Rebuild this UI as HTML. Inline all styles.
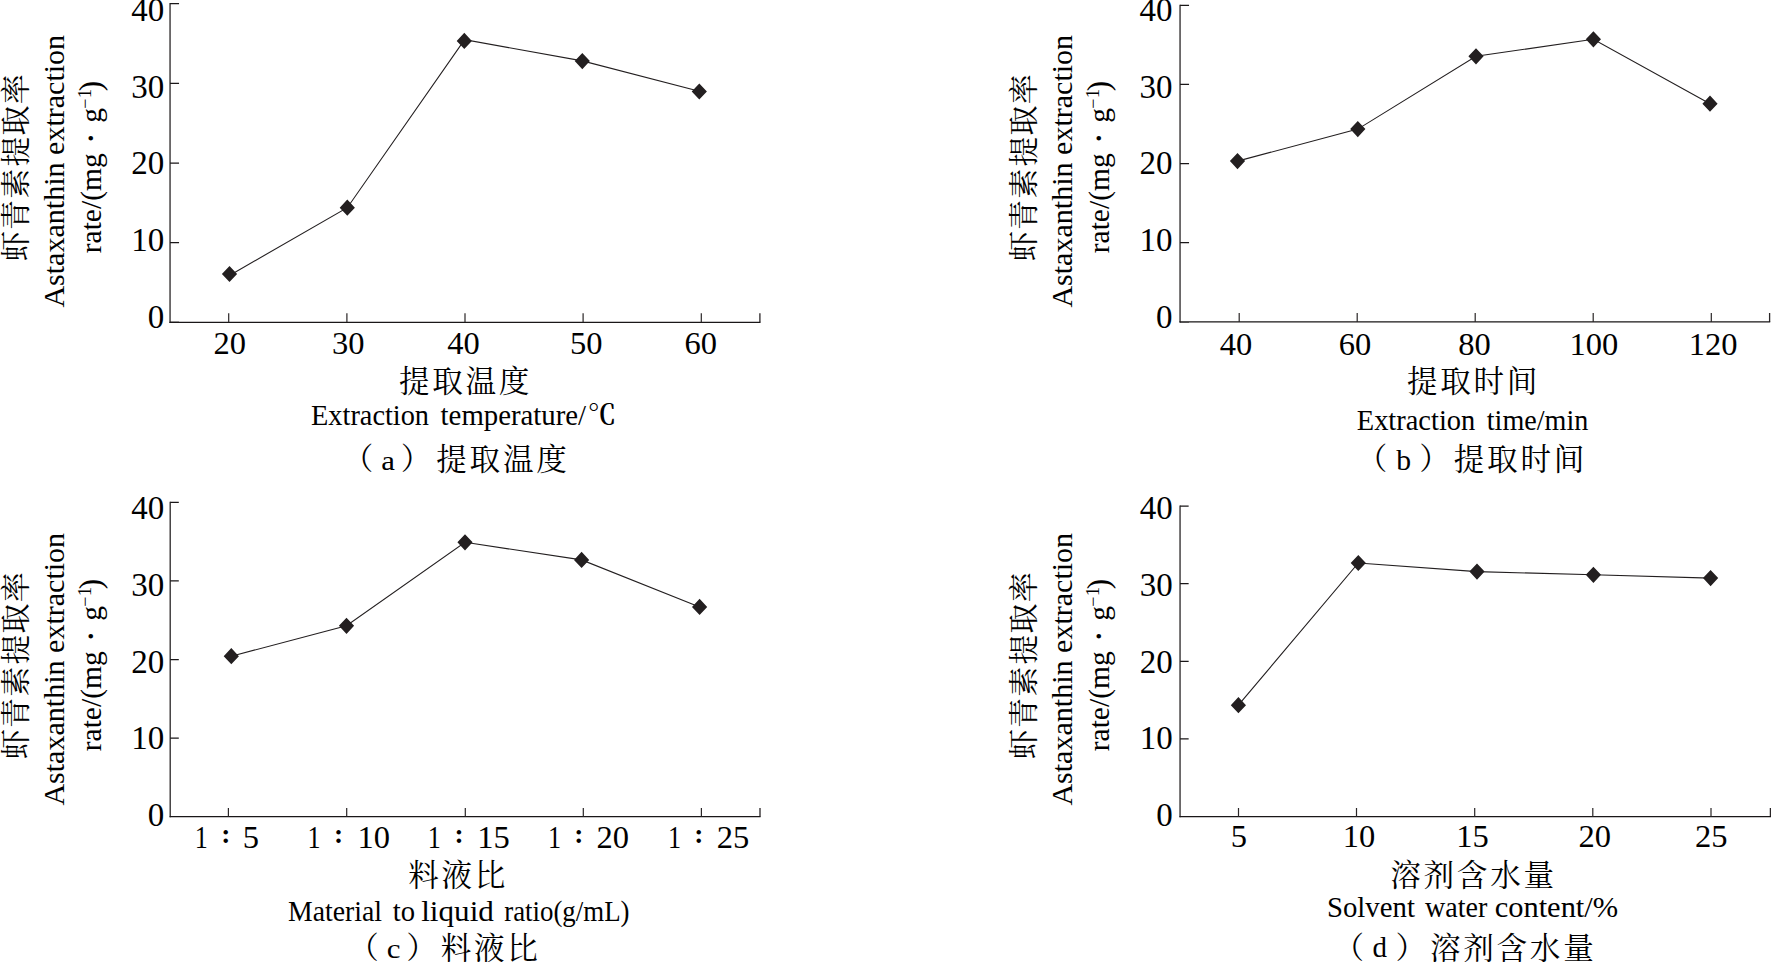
<!DOCTYPE html>
<html lang="zh-CN">
<head>
<meta charset="utf-8">
<title>虾青素提取率 Astaxanthin extraction rate</title>
<style>
html,body{margin:0;padding:0;background:#fff;}
body{width:1771px;height:962px;overflow:hidden;}
svg{display:block;}
.l{font-family:"Liberation Serif","Noto Serif CJK SC",serif;fill:#000;}
.c{font-family:"Liberation Serif","Noto Serif CJK SC",serif;fill:#000;font-weight:400;}
.axv{fill:none;stroke:#2a2627;stroke-width:1.3;}
.axh{fill:none;stroke:#1a1718;stroke-width:1.25;}
.tk{fill:none;stroke:#2a2627;stroke-width:1.2;}
.ln{fill:none;stroke:#231f20;stroke-width:1.1;}
.dm{fill:#231f20;stroke:none;}
</style>
</head>
<body>
<svg width="1771" height="962" viewBox="0 0 1771 962">
<rect width="1771" height="962" fill="#fff"/>
<g>
<path class="axv" d="M170.05 3V322.95M759.9 322.35v-9"/>
<path class="axh" d="M169.45 322.35H760.5M170.05 3.6h9M170.05 83.4h9M170.05 163h9M170.05 242.6h9M170.05 322.1h9"/>
<path class="tk" d="M228.7 322.35v-9M346.9 322.35v-9M465 322.35v-9M583.1 322.35v-9M701.3 322.35v-9"/>
<text class="l" x="131.18" y="21" font-size="33">40</text>
<text class="l" x="131.18" y="97.6" font-size="33">30</text>
<text class="l" x="131.18" y="174.4" font-size="33">20</text>
<text class="l" x="131.18" y="251.2" font-size="33">10</text>
<text class="l" x="147.68" y="328.1" font-size="33">0</text>
<text class="l" x="213.45" y="354.15" font-size="32.5">20</text>
<text class="l" x="332" y="354.15" font-size="32.5">30</text>
<text class="l" x="447.15" y="354.15" font-size="32.5">40</text>
<text class="l" x="570.1" y="354.15" font-size="32.5">50</text>
<text class="l" x="684.55" y="354.15" font-size="32.5">60</text>
<polyline class="ln" points="229.5,275.4 347.3,207.7 464.6,39.7 582.3,60.9 699.3,91.3"/>
<path class="dm" d="M229.5 265.9l7.6 8.1l-7.6 8.1l-7.6 -8.1zM347.3 199.6l7.6 8.1l-7.6 8.1l-7.6 -8.1zM464.3 32.8l7.6 8.1l-7.6 8.1l-7.6 -8.1zM582.3 53l7.6 8.1l-7.6 8.1l-7.6 -8.1zM699.3 83.4l7.6 8.1l-7.6 8.1l-7.6 -8.1z"/>
<g transform="translate(26.2 0) rotate(-90)">
<text class="c" x="-261.14 -230.01 -198.71 -166.47 -135.54 -104.14" y="0" font-size="30">虾青素提取率</text>
</g>
<g transform="translate(64 0) rotate(-90)">
<text class="l" transform="translate(-307.6 0) scale(1.0184 1)" font-size="29.5">Astaxanthin extraction</text>
</g>
<g transform="translate(101 0) rotate(-90)">
<text class="l"><tspan x="-253.26" y="0" font-size="29.5">rate/(mg</tspan><tspan x="-144.53" y="1.57" font-size="38">·</tspan><tspan x="-122.82" y="0" font-size="29.5">g</tspan><tspan x="-108.74" y="-10.1" font-size="18">−</tspan><tspan x="-98.36" y="-10.1" font-size="18.7">1</tspan><tspan x="-91.17" y="0" font-size="31">)</tspan></text>
</g>
<text class="c" x="398.92 432.22 465.52 498.82" y="392.1" font-size="30.6">提取温度</text>
<text class="l" transform="translate(311.06 425.4) scale(0.9607 1)" font-size="29.5">Extraction</text>
<text class="l" transform="translate(440.6 425.4) scale(0.9768 1)" font-size="29.5">temperature/</text>
<text class="c" x="587.82" y="425" font-size="28.5" style="font-weight:600">℃</text>
<text class="c"><tspan x="342.7" y="469.3" font-size="30.6">（</tspan><tspan x="381.34" y="469.7" font-size="27.3" textLength="13.66" lengthAdjust="spacingAndGlyphs">a</tspan><tspan x="400.69" y="469.3" font-size="30.6">）</tspan><tspan x="436.32 469.62 502.92 536.22" y="469.8" font-size="30.6">提取温度</tspan></text>
</g>
<g>
<path class="axv" d="M1180.05 4.75V322.55M1769.6 321.95v-9"/>
<path class="axh" d="M1179.45 321.95H1770.2M1180.05 5.35h9M1180.05 84.45h9M1180.05 163.55h9M1180.05 242.7h9M1180.05 322.05h9"/>
<path class="tk" d="M1239.2 321.95v-9M1357.2 321.95v-9M1475.2 321.95v-9M1593.2 321.95v-9M1711.3 321.95v-9"/>
<text class="l" x="1139.43" y="20.6" font-size="33">40</text>
<text class="l" x="1139.43" y="97.5" font-size="33">30</text>
<text class="l" x="1139.43" y="174.4" font-size="33">20</text>
<text class="l" x="1139.43" y="251.2" font-size="33">10</text>
<text class="l" x="1155.93" y="328.1" font-size="33">0</text>
<text class="l" x="1219.8" y="354.5" font-size="32.5">40</text>
<text class="l" x="1338.75" y="354.5" font-size="32.5">60</text>
<text class="l" x="1458.15" y="354.5" font-size="32.5">80</text>
<text class="l" x="1569.56" y="354.5" font-size="32.5">100</text>
<text class="l" x="1688.76" y="354.5" font-size="32.5">120</text>
<polyline class="ln" points="1237.5,161.1 1357.8,129.1 1476,56.3 1593.4,39.3 1710,103.7"/>
<path class="dm" d="M1237.5 153l7.6 8.1l-7.6 8.1l-7.6 -8.1zM1357.8 121l7.6 8.1l-7.6 8.1l-7.6 -8.1zM1476 48.2l7.6 8.1l-7.6 8.1l-7.6 -8.1zM1593.4 31.2l7.6 8.1l-7.6 8.1l-7.6 -8.1zM1710 95.6l7.6 8.1l-7.6 8.1l-7.6 -8.1z"/>
<g transform="translate(1034.3 0) rotate(-90)">
<text class="c" x="-261.14 -230.01 -198.71 -166.47 -135.54 -104.14" y="0" font-size="30">虾青素提取率</text>
</g>
<g transform="translate(1072.1 0) rotate(-90)">
<text class="l" transform="translate(-307.6 0) scale(1.0184 1)" font-size="29.5">Astaxanthin extraction</text>
</g>
<g transform="translate(1109.1 0) rotate(-90)">
<text class="l"><tspan x="-253.26" y="0" font-size="29.5">rate/(mg</tspan><tspan x="-144.53" y="1.57" font-size="38">·</tspan><tspan x="-122.82" y="0" font-size="29.5">g</tspan><tspan x="-108.74" y="-10.1" font-size="18">−</tspan><tspan x="-98.36" y="-10.1" font-size="18.7">1</tspan><tspan x="-91.17" y="0" font-size="31">)</tspan></text>
</g>
<text class="c" x="1406.92 1440.22 1473.52 1506.82" y="391.7" font-size="30.6">提取时间</text>
<text class="l" transform="translate(1356.76 429.6) scale(0.9648 1)" font-size="29.5">Extraction</text>
<text class="l" transform="translate(1486.8 429.6) scale(0.9529 1)" font-size="29.5">time/min</text>
<text class="c"><tspan x="1356.7" y="469.3" font-size="30.6">（</tspan><tspan x="1396.2" y="469.8" font-size="30" textLength="14.83" lengthAdjust="spacingAndGlyphs">b</tspan><tspan x="1419.29" y="469.3" font-size="30.6">）</tspan><tspan x="1453.82 1487.12 1520.42 1553.72" y="469.8" font-size="30.6">提取时间</tspan></text>
</g>
<g>
<path class="axv" d="M170.2 501.85V817.2M760 816.6v-8.6"/>
<path class="axh" d="M169.6 816.6H760.6M170.2 502.45h8.6M170.2 580.99h8.6M170.2 659.5h8.6M170.2 738.06h8.6M170.2 816.7h8.6"/>
<path class="tk" d="M228.4 816.6v-8.6M346.7 816.6v-8.6M465.3 816.6v-8.6M583.3 816.6v-8.6M701.4 816.6v-8.6"/>
<text class="l" x="131.18" y="518.9" font-size="33">40</text>
<text class="l" x="131.18" y="595.7" font-size="33">30</text>
<text class="l" x="131.18" y="672.5" font-size="33">20</text>
<text class="l" x="131.18" y="749.3" font-size="33">10</text>
<text class="l" x="147.68" y="826.1" font-size="33">0</text>
<text class="l"><tspan x="194.66" y="847.5" font-size="32.5" textLength="13.07" lengthAdjust="spacingAndGlyphs">1</tspan><tspan x="221.29" y="843.1" font-size="27.5" style="font-weight:bold">:</tspan><tspan x="242.68" y="847.5" font-size="32.5">5</tspan></text>
<text class="l"><tspan x="307.46" y="847.5" font-size="32.5" textLength="13.07" lengthAdjust="spacingAndGlyphs">1</tspan><tspan x="333.99" y="843.1" font-size="27.5" style="font-weight:bold">:</tspan><tspan x="357.46" y="847.5" font-size="32.5">10</tspan></text>
<text class="l"><tspan x="427.66" y="847.5" font-size="32.5" textLength="13.07" lengthAdjust="spacingAndGlyphs">1</tspan><tspan x="454.39" y="843.1" font-size="27.5" style="font-weight:bold">:</tspan><tspan x="477.36" y="847.5" font-size="32.5">15</tspan></text>
<text class="l"><tspan x="548.06" y="847.5" font-size="32.5" textLength="13.07" lengthAdjust="spacingAndGlyphs">1</tspan><tspan x="574.29" y="843.1" font-size="27.5" style="font-weight:bold">:</tspan><tspan x="596.48" y="847.5" font-size="32.5">20</tspan></text>
<text class="l"><tspan x="667.96" y="847.5" font-size="32.5" textLength="13.07" lengthAdjust="spacingAndGlyphs">1</tspan><tspan x="694.19" y="843.1" font-size="27.5" style="font-weight:bold">:</tspan><tspan x="716.68" y="847.5" font-size="32.5">25</tspan></text>
<polyline class="ln" points="231.3,656.2 346.5,625.8 465,542.3 581.6,559.9 699.6,606.9"/>
<path class="dm" d="M231.3 648.1l7.6 8.1l-7.6 8.1l-7.6 -8.1zM346.5 617.7l7.6 8.1l-7.6 8.1l-7.6 -8.1zM465 534.2l7.6 8.1l-7.6 8.1l-7.6 -8.1zM581.6 551.8l7.6 8.1l-7.6 8.1l-7.6 -8.1zM699.6 598.8l7.6 8.1l-7.6 8.1l-7.6 -8.1z"/>
<g transform="translate(26.2 498) rotate(-90)">
<text class="c" x="-261.14 -230.01 -198.71 -166.47 -135.54 -104.14" y="0" font-size="30">虾青素提取率</text>
</g>
<g transform="translate(64 498) rotate(-90)">
<text class="l" transform="translate(-307.6 0) scale(1.0184 1)" font-size="29.5">Astaxanthin extraction</text>
</g>
<g transform="translate(101 498) rotate(-90)">
<text class="l"><tspan x="-253.26" y="0" font-size="29.5">rate/(mg</tspan><tspan x="-144.53" y="1.57" font-size="38">·</tspan><tspan x="-122.82" y="0" font-size="29.5">g</tspan><tspan x="-108.74" y="-10.1" font-size="18">−</tspan><tspan x="-98.36" y="-10.1" font-size="18.7">1</tspan><tspan x="-91.17" y="0" font-size="31">)</tspan></text>
</g>
<text class="c" x="408.14 441.44 474.74" y="886" font-size="30.6">料液比</text>
<text class="l" transform="translate(288.07 920.5) scale(0.9394 1)" font-size="29.5">Material</text>
<text class="l" transform="translate(392.8 920.5) scale(0.9717 1)" font-size="29.5">to</text>
<text class="l" transform="translate(421.21 920.5) scale(1.0559 1)" font-size="29.5">liquid</text>
<text class="l" transform="translate(504.18 920.5) scale(0.9111 1)" font-size="29.5">ratio(g/mL)</text>
<text class="c"><tspan x="348.2" y="958.2" font-size="30.6">（</tspan><tspan x="386.73" y="957.6" font-size="27" textLength="13.75" lengthAdjust="spacingAndGlyphs">c</tspan><tspan x="406.29" y="958.2" font-size="30.6">）</tspan><tspan x="440.74 474.04 507.34" y="959.3" font-size="30.6">料液比</tspan></text>
</g>
<g>
<path class="axv" d="M1180.05 505.4V817.3M1770.4 816.7v-8.6"/>
<path class="axh" d="M1179.45 816.7H1771M1180.05 506h8.6M1180.05 583.65h8.6M1180.05 661.3h8.6M1180.05 738.95h8.6M1180.05 816.7h8.6"/>
<path class="tk" d="M1238.5 816.7v-8.6M1356.5 816.7v-8.6M1474.7 816.7v-8.6M1592.8 816.7v-8.6M1711 816.7v-8.6"/>
<text class="l" x="1139.73" y="518.9" font-size="33">40</text>
<text class="l" x="1139.73" y="595.7" font-size="33">30</text>
<text class="l" x="1139.73" y="672.5" font-size="33">20</text>
<text class="l" x="1139.73" y="749.3" font-size="33">10</text>
<text class="l" x="1156.23" y="826.1" font-size="33">0</text>
<text class="l" x="1230.82" y="847.2" font-size="32.5">5</text>
<text class="l" x="1342.64" y="847.2" font-size="32.5">10</text>
<text class="l" x="1456.29" y="847.2" font-size="32.5">15</text>
<text class="l" x="1578.6" y="847.2" font-size="32.5">20</text>
<text class="l" x="1694.95" y="847.2" font-size="32.5">25</text>
<polyline class="ln" points="1238.4,705.2 1358.3,563 1477,571.6 1593.4,574.8 1710.6,578.1"/>
<path class="dm" d="M1238.4 697.1l7.6 8.1l-7.6 8.1l-7.6 -8.1zM1358.3 554.9l7.6 8.1l-7.6 8.1l-7.6 -8.1zM1477 563.5l7.6 8.1l-7.6 8.1l-7.6 -8.1zM1593.4 566.7l7.6 8.1l-7.6 8.1l-7.6 -8.1zM1710.6 570l7.6 8.1l-7.6 8.1l-7.6 -8.1z"/>
<g transform="translate(1034.3 498) rotate(-90)">
<text class="c" x="-261.14 -230.01 -198.71 -166.47 -135.54 -104.14" y="0" font-size="30">虾青素提取率</text>
</g>
<g transform="translate(1072.1 498) rotate(-90)">
<text class="l" transform="translate(-307.6 0) scale(1.0184 1)" font-size="29.5">Astaxanthin extraction</text>
</g>
<g transform="translate(1109.1 498) rotate(-90)">
<text class="l"><tspan x="-253.26" y="0" font-size="29.5">rate/(mg</tspan><tspan x="-144.53" y="1.57" font-size="38">·</tspan><tspan x="-122.82" y="0" font-size="29.5">g</tspan><tspan x="-108.74" y="-10.1" font-size="18">−</tspan><tspan x="-98.36" y="-10.1" font-size="18.7">1</tspan><tspan x="-91.17" y="0" font-size="31">)</tspan></text>
</g>
<text class="c" x="1390.24 1423.54 1456.84 1490.14 1523.44" y="886" font-size="30.6">溶剂含水量</text>
<text class="l" transform="translate(1327 917.4) scale(0.9751 1)" font-size="29.5">Solvent</text>
<text class="l" transform="translate(1425 917.4) scale(0.9516 1)" font-size="29.5">water</text>
<text class="l" transform="translate(1494.65 917.4) scale(1.0333 1)" font-size="29.5">content/%</text>
<text class="c"><tspan x="1333.5" y="958.2" font-size="30.6">（</tspan><tspan x="1372.39" y="957.3" font-size="29.3" textLength="14.51" lengthAdjust="spacingAndGlyphs">d</tspan><tspan x="1395.39" y="958.2" font-size="30.6">）</tspan><tspan x="1429.94 1463.24 1496.54 1529.84 1563.14" y="958.9" font-size="30.6">溶剂含水量</tspan></text>
</g>
</svg>
</body>
</html>
